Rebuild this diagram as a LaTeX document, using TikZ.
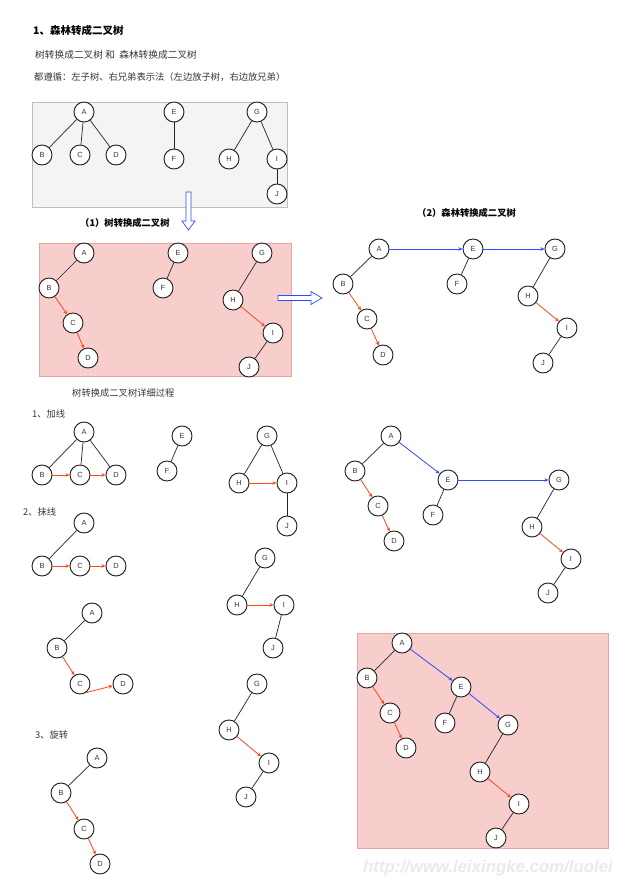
\documentclass[tikz,border=0pt]{standalone}
\usepackage{fontspec}
\setmainfont{Liberation Sans}
\newfontfamily\cjk{Noto Sans CJK SC}
\newfontfamily\arial{Liberation Sans}
\usetikzlibrary{arrows.meta}
\definecolor{myred}{RGB}{255,70,35}
\definecolor{myblue}{RGB}{45,75,255}
\definecolor{edgegray}{RGB}{35,35,35}
\definecolor{txtgray}{RGB}{55,55,55}
\definecolor{boxgray}{RGB}{244,244,244}
\definecolor{boxgrayline}{RGB}{190,190,190}
\definecolor{pinkfill}{RGB}{248,206,204}
\definecolor{pinkline}{RGB}{228,165,163}
\definecolor{wmark}{RGB}{234,234,234}
\begin{document}
\begin{tikzpicture}[x=1pt,y=-1pt,
  nd/.style={circle, draw=edgegray, line width=0.95pt, fill=white, minimum size=20pt, inner sep=0pt, font=\arial\fontsize{7.4}{7.4}\selectfont, text=txtgray},
  bl/.style={draw=edgegray, line width=0.7pt},
  rd/.style={draw=myred, line width=0.8pt, -{Stealth[length=4pt,width=3.6pt]}},
  bu/.style={draw=myblue, line width=0.8pt, -{Stealth[length=4pt,width=3.6pt]}},
  txt/.style={anchor=west, inner sep=0pt, text=txtgray, font=\cjk\fontsize{9.3}{11}\selectfont},
  hd/.style={anchor=west, inner sep=0pt, text=black, font=\cjk\bfseries\fontsize{9.3}{11}\selectfont},
  hollow/.style={draw=myblue, line width=0.7pt, fill=white},
  panel/.style={draw=pinkline, line width=0.7pt, fill=pinkfill}]
\useasboundingbox (0,0) rectangle (628,894);
\fill[white] (0,0) rectangle (628,894);

% ---- texts ----
\node[hd, font=\cjk\bfseries\fontsize{10.5}{12}\selectfont] (title) at (33,30) {1、森林转成二叉树};
\node[txt, font=\cjk\fontsize{9.7}{11}\selectfont] (l1) at (35,55) {树转换成二叉树 和~ 森林转换成二叉树};
\node[txt] (l2) at (34,77) {都遵循：左子树、右兄弟表示法（左边放子树，右边放兄弟）};
\node[hd] (h1) at (80,223) {（1）树转换成二叉树};
\node[hd] (h2) at (417,213) {（2）森林转换成二叉树};
\node[txt] (h3) at (72,393) {树转换成二叉树详细过程};
\node[txt] (s1) at (32,414) {1、加线};
\node[txt] (s2) at (23,512) {2、抹线};
\node[txt] (s3) at (35,735) {3、旋转};
\node[anchor=west, inner sep=0pt, text=wmark, font=\arial\bfseries\itshape\fontsize{16.8}{18}\selectfont] (wm) at (363,868) {http://www.leixingke.com/luolei};

% ---- panels ----
\draw[draw=boxgrayline, line width=0.7pt, fill=boxgray] (32,102) rectangle (287,207);
\draw[panel] (39,243) rectangle (291,376);
\draw[panel] (357,633) rectangle (608,848);

% ---- hollow arrows ----
\draw[hollow] (186,192) -- (191,192) -- (191,221) -- (195,221) -- (188.5,230) -- (182,221) -- (186,221) -- cycle;
\draw[hollow] (278,295.5) -- (311,295.5) -- (311,291.5) -- (322,298) -- (311,304.5) -- (311,300.5) -- (278,300.5) -- cycle;

% ---- group 1: forest ----
\foreach \n/\x/\y in {A/84/112, B/42/155, C/80/155, D/116/155, E/174/112, F/174/159, G/257/112, H/229/159, I/277/159, J/277/194}
  \node[nd] (a\n) at (\x,\y) {\n};
\foreach \s/\t in {A/B, A/C, A/D, E/F, G/H, G/I, I/J}
  \draw[bl] (a\s) -- (a\t);

% ---- group 2: trees to binary ----
\foreach \n/\x/\y in {A/84/253, B/49/288, C/73/323, D/88/358, E/178/253, F/163/288, G/262/253, H/233/300, I/273/333, J/249/367}
  \node[nd] (b\n) at (\x,\y) {\n};
\foreach \s/\t in {A/B, E/F, G/H, I/J}
  \draw[bl] (b\s) -- (b\t);
\foreach \s/\t in {B/C, C/D, H/I}
  \draw[rd] (b\s) -- (b\t);

% ---- group 3: forest to binary ----
\foreach \n/\x/\y in {A/379/249, B/343/284, C/367/319, D/383/355, E/473/249, F/457/284, G/555/249, H/528/296, I/567/328, J/543/363}
  \node[nd] (c\n) at (\x,\y) {\n};
\foreach \s/\t in {A/B, E/F, G/H, I/J}
  \draw[bl] (c\s) -- (c\t);
\foreach \s/\t in {B/C, C/D, H/I}
  \draw[rd] (c\s) -- (c\t);
\foreach \s/\t in {A/E, E/G}
  \draw[bu] (c\s) -- (c\t);

% ---- group 4: step 1 ----
\foreach \n/\x/\y in {A/84/432, B/42/475, C/80/475, D/116/475, E/182/436, F/167/471, G/267/436, H/239/483, I/287/483, J/287/526}
  \node[nd] (d\n) at (\x,\y) {\n};
\foreach \s/\t in {A/B, A/C, A/D, E/F, G/H, G/I, I/J}
  \draw[bl] (d\s) -- (d\t);
\foreach \s/\t in {B/C, C/D, H/I}
  \draw[rd] (d\s) -- (d\t);

% ---- group 5: step 2, first ----
\foreach \n/\x/\y in {A/84/523, B/42/566, C/80/566, D/116/566, G/265/558, H/237/605, I/284/605, J/273/648}
  \node[nd] (e\n) at (\x,\y) {\n};
\foreach \s/\t in {A/B, G/H, I/J}
  \draw[bl] (e\s) -- (e\t);
\foreach \s/\t in {B/C, C/D, H/I}
  \draw[rd] (e\s) -- (e\t);

% ---- group 6: step 2, second ----
\foreach \n/\x/\y in {A/92/613, B/57/648, C/80/684, D/123/684, G/257/684, H/229/730, I/269/763, J/246/797}
  \node[nd] (f\n) at (\x,\y) {\n};
\foreach \s/\t in {A/B, G/H, I/J}
  \draw[bl] (f\s) -- (f\t);
\foreach \s/\t in {B/C, H/I}
  \draw[rd] (f\s) -- (f\t);
\draw[rd] (fC.-55) -- (fD.190);

% ---- group 7: step 3 ----
\foreach \n/\x/\y in {A/97/758, B/61/793, C/84/829, D/100/864}
  \node[nd] (g\n) at (\x,\y) {\n};
\draw[bl] (gA) -- (gB);
\foreach \s/\t in {B/C, C/D}
  \draw[rd] (g\s) -- (g\t);

% ---- group 8: right middle ----
\foreach \n/\x/\y in {A/391/436, B/355/471, C/378/506, D/394/541, E/448/480, F/433/515, G/559/480, H/532/527, I/571/559, J/548/593}
  \node[nd] (h\n) at (\x,\y) {\n};
\foreach \s/\t in {A/B, E/F, G/H, I/J}
  \draw[bl] (h\s) -- (h\t);
\foreach \s/\t in {B/C, C/D, H/I}
  \draw[rd] (h\s) -- (h\t);
\foreach \s/\t in {A/E, E/G}
  \draw[bu] (h\s) -- (h\t);

% ---- group 9: final binary tree ----
\foreach \n/\x/\y in {A/402/643, B/367/678, C/390/713, D/406/748, E/461/687, F/445/723, G/508/725, H/480/772, I/519/804, J/496/838}
  \node[nd] (k\n) at (\x,\y) {\n};
\foreach \s/\t in {A/B, E/F, G/H, I/J}
  \draw[bl] (k\s) -- (k\t);
\foreach \s/\t in {B/C, C/D, H/I}
  \draw[rd] (k\s) -- (k\t);
\foreach \s/\t in {A/E, E/G}
  \draw[bu] (k\s) -- (k\t);
\end{tikzpicture}
\end{document}
